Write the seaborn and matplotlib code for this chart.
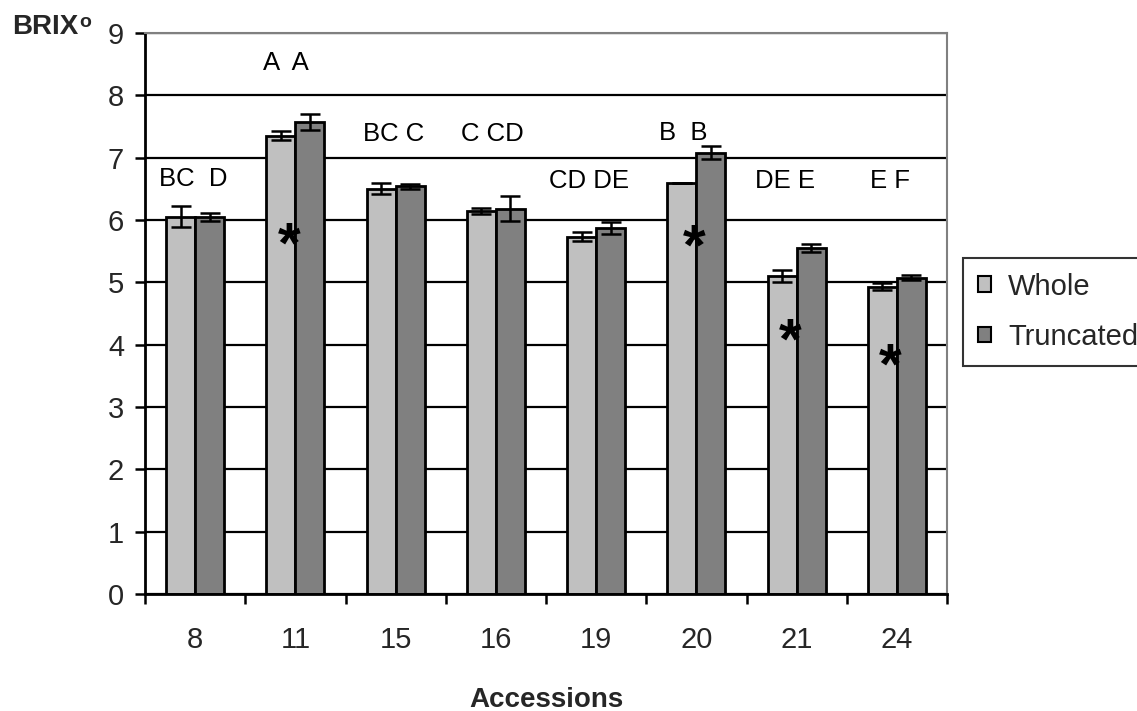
import numpy as np
import pandas as pd
import matplotlib
matplotlib.use("Agg")
import matplotlib.pyplot as plt
from matplotlib.patches import Patch
import seaborn as sns

# ---- data ----
accessions = ["8", "11", "15", "16", "19", "20", "21", "24"]
whole = [6.05, 7.35, 6.50, 6.14, 5.73, 6.59, 5.10, 4.93]
truncated = [6.05, 7.57, 6.54, 6.18, 5.87, 7.08, 5.55, 5.07]
whole_err = [0.17, 0.07, 0.09, 0.05, 0.07, 0.0, 0.09, 0.06]
truncated_err = [0.07, 0.13, 0.04, 0.20, 0.09, 0.10, 0.07, 0.04]
letters = ["BC  D", "A  A", "BC C", "C CD", "CD DE", "B  B", "DE E", "E F"]
letter_y = [6.66, 8.52, 7.38, 7.38, 6.63, 7.40, 6.63, 6.63]
letter_dx = [-0.02, -0.09, -0.02, -0.03, -0.07, -0.13, -0.12, -0.07]
star_idx = [1, 5, 6, 7]
star_y = [5.73, 5.71, 4.19, 3.80]
star_dx = [-0.06, -0.02, -0.06, -0.07]
series = ["Whole", "Truncated"]
colors = ["#C0C0C0", "#808080"]

df = pd.DataFrame({
    "Accession": accessions * 2,
    "Brix": whole + truncated,
    "Type": [series[0]] * len(accessions) + [series[1]] * len(accessions),
})

sns.set_theme(style="white")
plt.rcParams["font.family"] = ["Liberation Sans", "DejaVu Sans"]

fig = plt.figure(figsize=(11.37, 7.11), dpi=100)
ax = fig.add_axes([145 / 1137, 1 - 594 / 711, (947 - 145) / 1137, (594 - 33) / 711])

sns.barplot(data=df, x="Accession", y="Brix", hue="Type", order=accessions,
            hue_order=series, palette=colors, width=0.58, errorbar=None,
            edgecolor="black", linewidth=2.0, saturation=1, legend=False, ax=ax)

# error bars
for cont, errs in zip(ax.containers, [whole_err, truncated_err]):
    xs = [b.get_x() + b.get_width() / 2 for b in cont]
    hs = [b.get_height() for b in cont]
    ax.errorbar(xs, hs, yerr=errs, fmt="none", ecolor="black", elinewidth=1.8,
                capsize=7, capthick=1.8, zorder=5)

ax.set_ylim(0, 9)
ax.set_xlim(-0.5, len(accessions) - 0.5)
ax.set_yticks(range(0, 10))
ax.set_axisbelow(True)
ax.yaxis.grid(True, color="black", linewidth=1.6)
ax.xaxis.grid(False)

for side in ["top", "right"]:
    ax.spines[side].set_color("#808080")
    ax.spines[side].set_linewidth(1.5)
ax.spines["left"].set_color("black")
ax.spines["left"].set_linewidth(2)
ax.spines["bottom"].set_color("black")
ax.spines["bottom"].set_linewidth(2)

ax.tick_params(axis="y", which="major", left=True, length=7, width=1.8,
               direction="out", color="black", labelsize=21, pad=8)
ax.set_xticks(np.arange(-0.5, len(accessions), 1.0), minor=True)
ax.tick_params(axis="x", which="minor", bottom=True, length=7, width=1.8,
               direction="out", color="black")
ax.tick_params(axis="x", which="major", bottom=False, length=0, labelsize=21, pad=23)

ax.set_xlabel("Accessions", fontsize=20, fontweight="bold")
ax.xaxis.set_label_coords(0.5, -0.165)
ax.set_ylabel("")

# letter annotations
for i, (txt, y, dx) in enumerate(zip(letters, letter_y, letter_dx)):
    ax.text(i + dx, y, txt, ha="center", va="center", fontsize=18.5, color="black")

# asterisks
for i, y, dx in zip(star_idx, star_y, star_dx):
    ax.annotate("*", xy=(i + dx, y), xytext=(0, -8), textcoords="offset points",
                ha="center", va="center", fontsize=42, fontweight="bold",
                color="black")

# y axis title
brix = fig.text(12 / 1137, 1 - 27 / 711, "BRIX", fontsize=20, fontweight="bold",
                ha="left", va="center")
ax.annotate("o", xy=(1, 1), xycoords=brix, xytext=(0.5, 0),
            textcoords="offset points", fontsize=14, fontweight="bold",
            ha="left", va="top")

# legend
handles = [Patch(facecolor=c, edgecolor="black", linewidth=1.5) for c in colors]
leg = ax.legend(handles, series, loc="upper left",
                bbox_to_anchor=(963 / 1137, 1 - 258 / 711),
                bbox_transform=fig.transFigure, fontsize=21, frameon=True,
                fancybox=False, handlelength=0.45, handleheight=0.45,
                handletextpad=0.6, borderpad=0.5, labelspacing=0.77,
                borderaxespad=0)
leg.get_frame().set_edgecolor("black")
leg.get_frame().set_linewidth(1.5)

fig.savefig("out.png", dpi=100)
